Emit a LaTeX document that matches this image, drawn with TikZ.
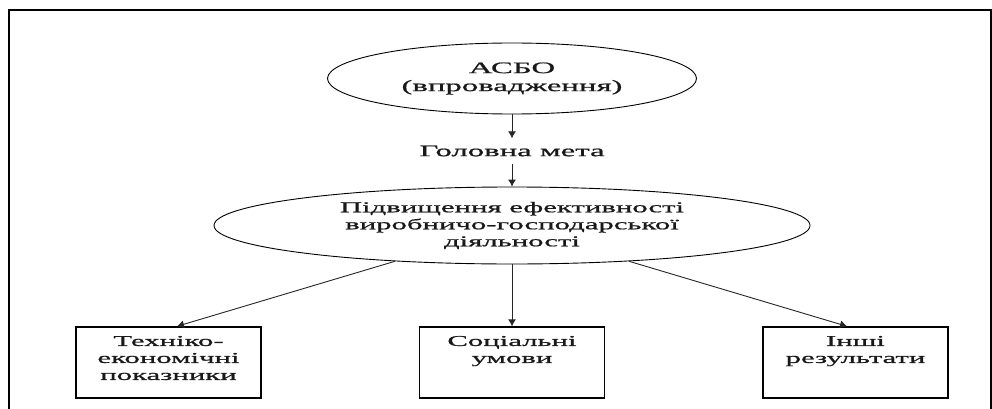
\documentclass[tikz,border=0pt]{standalone}
\usepackage{fontspec}
\setmainfont{Liberation Serif}[FakeStretch=2.05, FakeBold=1]
\usetikzlibrary{arrows.meta,shapes.geometric}
\begin{document}
\begin{tikzpicture}[x=1pt,y=-1pt,
 txt/.style={font=\fontsize{15}{17}\selectfont, align=center, text=black!90},
 bigtxt/.style={font=\fontsize{16}{18}\selectfont},
 oval/.style={ellipse, draw, line width=0.9pt, inner sep=0pt, txt},
 boxnode/.style={draw, line width=1.4pt, inner sep=0pt, txt},
 link/.style={draw=black!85, line width=0.9pt, -{Latex[length=7pt,width=8pt]}},
 frameline/.style={line width=2pt}]
\useasboundingbox (0,0) rectangle (992,409);
\draw[frameline] (8.5,409) -- (8.5,10) -- (992,10);
\draw[frameline] (991,10) -- (991,409);
\node[oval, bigtxt, minimum width=369pt, minimum height=71pt] (e1) at (512,78.5) {АСБО\\(впровадження)};
\node[txt, bigtxt, minimum height=25pt, inner sep=0pt] (goal) at (512,151) {Головна мета};
\node[oval, minimum width=596pt, minimum height=77pt] (e2) at (512,225.5) {Підвищення ефективності\\виробничо-господарської\\діяльності};
\node[boxnode] (b1) at (168.5,362.5) {\parbox[c][71pt][t]{185pt}{\centering\vspace*{9pt}Техніко-\\економічні\\показники}};
\node[boxnode] (b2) at (512,362.5) {\parbox[c][71pt][t]{185pt}{\centering\vspace*{9pt}Соціальні\\умови}};
\node[boxnode] (b3) at (855.5,362.5) {\parbox[c][71pt][t]{185pt}{\centering\vspace*{9pt}Інші\\результати}};
\draw[link] (e1.south) -- (goal.north);
\draw[link] (goal.south) -- (e2.north);
\draw[link] (e2.197) -- ([xshift=8.5pt]b1.north);
\draw[link] (e2.south) -- (b2.north);
\draw[link] (e2.343) -- ([xshift=-8.5pt]b3.north);
\end{tikzpicture}
\end{document}
